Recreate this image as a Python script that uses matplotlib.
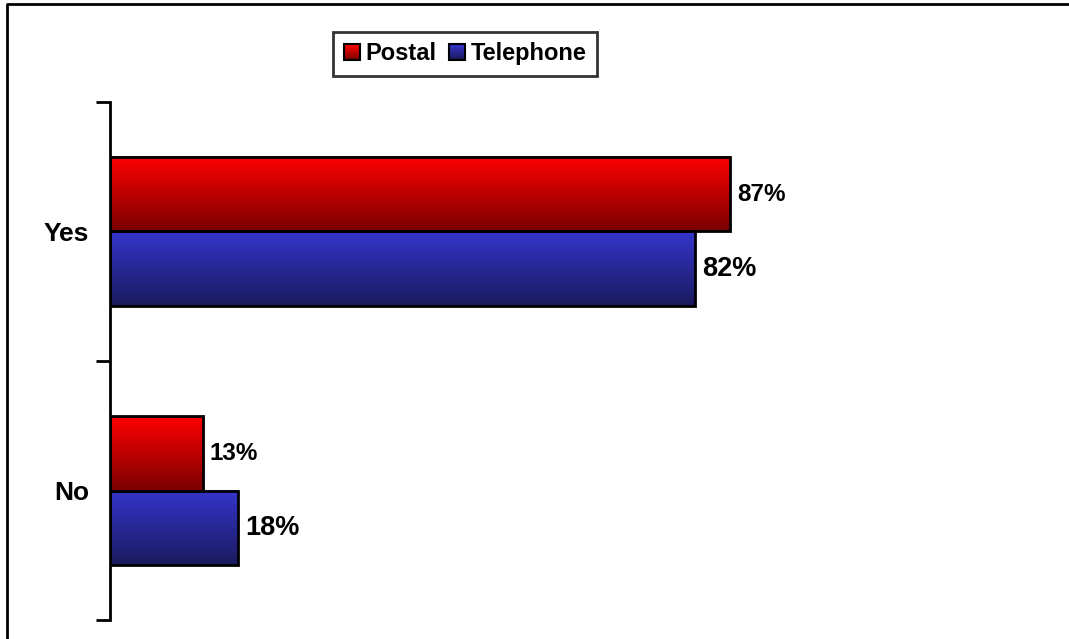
import numpy as np
import matplotlib
matplotlib.use("Agg")
import matplotlib.pyplot as plt
from matplotlib.patches import Rectangle
from matplotlib.lines import Line2D
from matplotlib.colors import LinearSegmentedColormap
from matplotlib.legend_handler import HandlerBase

plt.rcParams['font.family'] = ['Liberation Sans', 'DejaVu Sans']
plt.rcParams['font.weight'] = 'bold'

categories = ["No", "Yes"]
postal = [13, 87]
telephone = [18, 82]
series_names = ["Postal", "Telephone"]

# bottom colour -> top colour of each series gradient
red_grad = LinearSegmentedColormap.from_list("red_grad", ["#7a0000", "#ff0000"])
blue_grad = LinearSegmentedColormap.from_list("blue_grad", ["#1a1a5e", "#3535cc"])

BAR_H = 0.286


def gradient_bar(ax, x0, y0, w, h, cmap):
    grad = np.linspace(0, 1, 256).reshape(-1, 1)
    ax.imshow(grad, cmap=cmap, origin="lower", aspect="auto",
              extent=(x0, x0 + w, y0, y0 + h), zorder=2, interpolation="bilinear")
    ax.add_patch(Rectangle((x0, y0), w, h, fill=False, edgecolor="black",
                           linewidth=2, zorder=3))


class GradientHandler(HandlerBase):
    def __init__(self, cmap):
        super().__init__()
        self.cmap = cmap

    def create_artists(self, legend, orig_handle, xdescent, ydescent, width,
                       height, fontsize, trans):
        size = min(width, height) * 0.95
        x0 = -xdescent + (width - size) / 2
        y0 = -ydescent + (height - size) / 2
        arts = []
        n = 12
        for i in range(n):
            arts.append(Rectangle((x0, y0 + size * i / n), size, size / n + 0.2,
                                  facecolor=self.cmap(i / (n - 1)), edgecolor="none",
                                  transform=trans))
        arts.append(Rectangle((x0, y0), size, size, fill=False, edgecolor="black",
                              linewidth=1.5, transform=trans))
        return arts


fig = plt.figure(figsize=(10.69, 6.39), dpi=100)
ax = fig.add_axes([0.1029, 0.0297, 0.667, 0.8107])

y = np.arange(len(categories))
for i in range(len(categories)):
    gradient_bar(ax, 0, y[i], postal[i], BAR_H, red_grad)
    gradient_bar(ax, 0, y[i] - BAR_H, telephone[i], BAR_H, blue_grad)
    ax.text(postal[i] + 1.0, y[i] + BAR_H / 2, f"{postal[i]}%", va="center",
            ha="left", fontsize=17.5, fontweight="bold")
    ax.text(telephone[i] + 1.0, y[i] - BAR_H / 2, f"{telephone[i]}%", va="center",
            ha="left", fontsize=19.5, fontweight="bold")

ax.set_xlim(0, 100)
ax.set_ylim(-0.5, 1.5)

ax.set_yticks(y)
ax.set_yticklabels(categories, fontsize=19, fontweight="bold")
ax.set_yticks([-0.5, 0.5, 1.5], minor=True)
ax.tick_params(axis="y", which="major", length=0, pad=15)
ax.tick_params(axis="y", which="minor", length=10, width=2, direction="out")
ax.xaxis.set_visible(False)
for side in ("top", "right", "bottom"):
    ax.spines[side].set_visible(False)
ax.spines["left"].set_linewidth(2)

handles = [Rectangle((0, 0), 1, 1), Rectangle((0, 0), 1, 1)]
leg = fig.legend(handles, series_names, loc="center",
                 bbox_to_anchor=(0.435, 0.916), ncol=2, frameon=True,
                 fancybox=False, prop={"weight": "bold", "size": 17},
                 handler_map={handles[0]: GradientHandler(red_grad),
                              handles[1]: GradientHandler(blue_grad)},
                 handlelength=0.75, handletextpad=0.2, columnspacing=0.5,
                 borderpad=0.45, borderaxespad=0, edgecolor="black")
leg.get_frame().set_linewidth(2)

# chart area frame: only its top and left edges fall inside the image
fig.add_artist(Line2D([0.0067, 0.0067, 1.0], [0.0, 0.9935, 0.9935],
                      transform=fig.transFigure, color="black", linewidth=2))

fig.savefig("out.png", dpi=100)
